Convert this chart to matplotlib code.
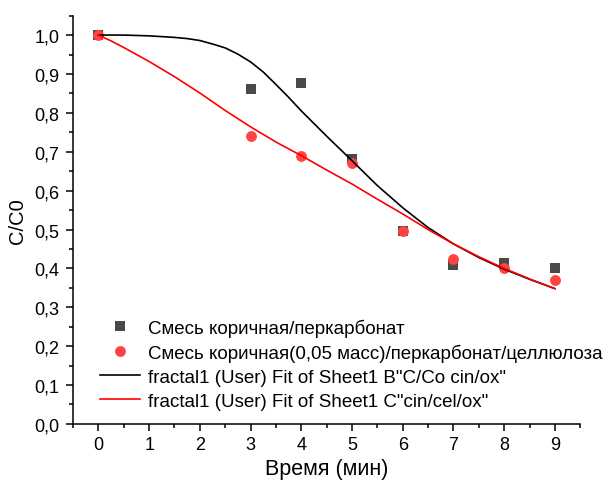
import matplotlib
matplotlib.use("Agg")
import matplotlib.pyplot as plt
from matplotlib.ticker import MultipleLocator

plt.rcParams['font.family'] = ['Liberation Sans', 'DejaVu Sans']

# measured points
t = [0, 3, 4, 5, 6, 7, 8, 9]
c_perc = [1.0, 0.862, 0.878, 0.682, 0.496, 0.410, 0.415, 0.400]
c_cell = [1.0, 0.741, 0.688, 0.670, 0.496, 0.425, 0.400, 0.370]

# fit curves
fit_t_perc = [0, 0.5, 1.0, 1.5, 1.75, 2.0, 2.25, 2.5, 2.75, 3.0, 3.25, 3.5, 3.75,
              4.0, 4.5, 5.0, 5.5, 6.0, 6.5, 7.0, 7.5, 8.0, 8.5, 9.0]
fit_perc = [1.000, 1.000, 0.998, 0.994, 0.991, 0.986, 0.977, 0.967, 0.951, 0.931,
            0.905, 0.873, 0.840, 0.805, 0.740, 0.677, 0.613, 0.556, 0.505, 0.463,
            0.428, 0.398, 0.372, 0.348]
fit_t_cell = [0, 0.25, 0.5, 0.75, 1.0, 1.5, 2.0, 2.5, 3.0, 3.5, 4.0, 4.5, 5.0,
              5.5, 6.0, 6.5, 7.0, 7.5, 8.0, 8.5, 9.0]
fit_cell = [1.000, 0.985, 0.968, 0.950, 0.932, 0.893, 0.851, 0.806, 0.764, 0.725,
            0.690, 0.653, 0.617, 0.578, 0.540, 0.500, 0.463, 0.430, 0.400, 0.373,
            0.348]

labels = ["Смесь коричная/перкарбонат",
          "Смесь коричная(0,05 масс)/перкарбонат/целлюлоза",
          "fractal1 (User) Fit of Sheet1 B\"C/Co cin/ox\"",
          "fractal1 (User) Fit of Sheet1 C\"cin/cel/ox\""]

y_ticks = [0.0, 0.1, 0.2, 0.3, 0.4, 0.5, 0.6, 0.7, 0.8, 0.9, 1.0]
y_ticklabels = ["0,0", "0,1", "0,2", "0,3", "0,4", "0,5", "0,6", "0,7", "0,8", "0,9", "1,0"]
x_ticks = [0, 1, 2, 3, 4, 5, 6, 7, 8, 9]

fig = plt.figure(figsize=(6.14, 4.89), dpi=100)
ax = fig.add_axes([0.119, 0.131, 0.826, 0.835])

s1, = ax.plot(t, c_perc, 's', color='#4a4a4a', markersize=7, markeredgewidth=0, zorder=3)
s2, = ax.plot(t, c_cell, 'o', color='#ff4242', markersize=7.8, markeredgewidth=0, zorder=4)
l1, = ax.plot(fit_t_perc, fit_perc, '-', color='black', lw=1.2, zorder=5)
l2, = ax.plot(fit_t_cell, fit_cell, '-', color='#ff0000', lw=1.2, zorder=5)

ax.set_xlim(-0.5, 9.5)
ax.set_ylim(0, 1.05)
ax.set_xticks(x_ticks)
ax.set_yticks(y_ticks)
ax.set_yticklabels(y_ticklabels)
ax.xaxis.set_minor_locator(MultipleLocator(0.5))
ax.yaxis.set_minor_locator(MultipleLocator(0.05))

for side in ['top', 'right']:
    ax.spines[side].set_visible(False)
for side in ['left', 'bottom']:
    ax.spines[side].set_linewidth(1.1)
ax.tick_params(which='major', direction='out', length=5, width=1.1, labelsize=13, pad=5)
ax.tick_params(axis='x', which='major', pad=4)
ax.tick_params(which='minor', direction='out', length=3, width=1.1)

ax.set_xlabel("Время (мин)", fontsize=15.5, labelpad=3)
ax.set_ylabel("C/C0", fontsize=14.5, labelpad=5)

ax.legend([s1, s2, l1, l2], labels, loc='upper left', bbox_to_anchor=(0.053, 0.258),
          frameon=False, fontsize=13.5, borderpad=0, borderaxespad=0,
          handlelength=2.13, handletextpad=0.43, labelspacing=0.36)

fig.savefig("out.png", dpi=100)
